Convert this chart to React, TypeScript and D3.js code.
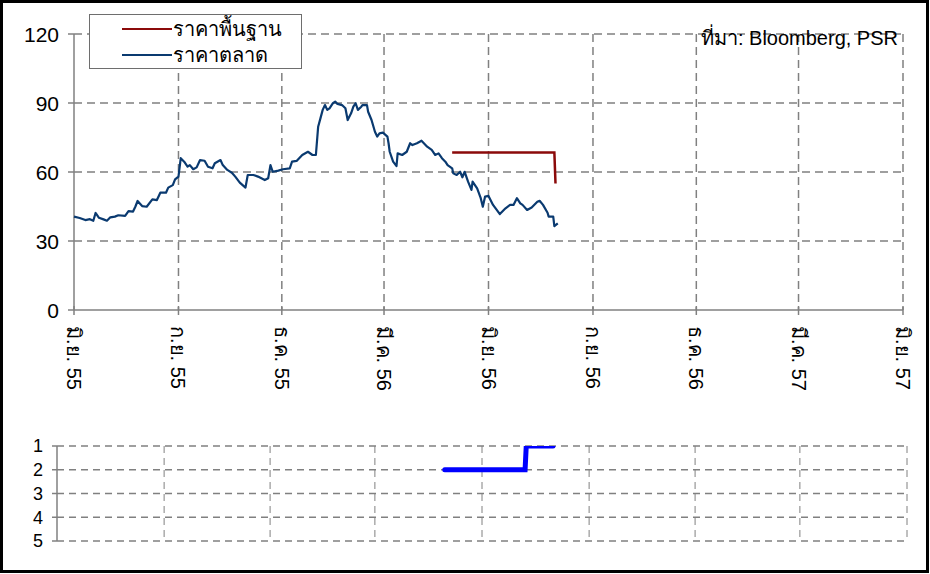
import * as d3 from 'd3'
import React from 'react'

const W = 930
const H = 574
const FONT = "'Liberation Sans', Arial, sans-serif"

// ราคาตลาด - market price
const marketPrice: [string, number][] = [
    ['2012-06-01', 40.6], ['2012-06-06', 40.0], ['2012-06-11', 39.1], ['2012-06-15', 39.5],
    ['2012-06-18', 38.8], ['2012-06-20', 42.2], ['2012-06-23', 40.1], ['2012-06-27', 39.4],
    ['2012-06-30', 38.8], ['2012-07-03', 40.3], ['2012-07-07', 40.6], ['2012-07-10', 41.2],
    ['2012-07-16', 40.9], ['2012-07-19', 43.0], ['2012-07-23', 42.8], ['2012-07-25', 44.9],
    ['2012-07-27', 47.4], ['2012-07-31', 45.2], ['2012-08-04', 44.9], ['2012-08-09', 48.1],
    ['2012-08-13', 47.8], ['2012-08-16', 51.0], ['2012-08-21', 51.0], ['2012-08-23', 53.2],
    ['2012-08-27', 54.3], ['2012-08-29', 56.8], ['2012-09-01', 58.0], ['2012-09-03', 66.0],
    ['2012-09-06', 64.5], ['2012-09-09', 62.3], ['2012-09-11', 63.0], ['2012-09-14', 61.2],
    ['2012-09-17', 62.0], ['2012-09-20', 65.2], ['2012-09-24', 64.9], ['2012-09-27', 62.3],
    ['2012-10-01', 61.6], ['2012-10-03', 63.8], ['2012-10-08', 65.2], ['2012-10-10', 63.0],
    ['2012-10-14', 60.9], ['2012-10-18', 59.7], ['2012-10-21', 58.0], ['2012-10-25', 55.4],
    ['2012-10-30', 53.2], ['2012-11-01', 58.7], ['2012-11-06', 58.7], ['2012-11-10', 58.0],
    ['2012-11-16', 56.5], ['2012-11-19', 57.3], ['2012-11-21', 63.0], ['2012-11-23', 60.1],
    ['2012-11-28', 60.6], ['2012-12-02', 61.2], ['2012-12-08', 61.6], ['2012-12-10', 64.5],
    ['2012-12-14', 64.8], ['2012-12-19', 67.4], ['2012-12-24', 68.8], ['2012-12-28', 67.4],
    ['2012-12-31', 67.4], ['2013-01-02', 79.7], ['2013-01-04', 83.3], ['2013-01-06', 87.0],
    ['2013-01-08', 89.1], ['2013-01-10', 87.0], ['2013-01-12', 87.7], ['2013-01-15', 89.9],
    ['2013-01-17', 90.6], ['2013-01-19', 89.6], ['2013-01-23', 89.1], ['2013-01-26', 87.7],
    ['2013-01-28', 82.6], ['2013-01-31', 85.5], ['2013-02-02', 88.4], ['2013-02-04', 89.9],
    ['2013-02-06', 87.0], ['2013-02-09', 88.4], ['2013-02-10', 89.1], ['2013-02-14', 89.1],
    ['2013-02-15', 86.2], ['2013-02-18', 82.6], ['2013-02-21', 77.5], ['2013-02-23', 75.4],
    ['2013-02-25', 76.8], ['2013-02-28', 77.1], ['2013-03-04', 75.4], ['2013-03-05', 72.5],
    ['2013-03-06', 68.8], ['2013-03-09', 64.5], ['2013-03-12', 62.6], ['2013-03-13', 68.1],
    ['2013-03-17', 67.4], ['2013-03-21', 68.8], ['2013-03-24', 72.5], ['2013-03-26', 71.7],
    ['2013-03-30', 72.5], ['2013-04-03', 73.6], ['2013-04-08', 71.0], ['2013-04-12', 69.6],
    ['2013-04-15', 67.4], ['2013-04-18', 68.1], ['2013-04-21', 66.0], ['2013-04-24', 64.5],
    ['2013-04-26', 63.0], ['2013-04-30', 61.6], ['2013-05-01', 59.4], ['2013-05-04', 58.7],
    ['2013-05-07', 60.1], ['2013-05-09', 57.7], ['2013-05-11', 60.1], ['2013-05-14', 55.8],
    ['2013-05-17', 52.2], ['2013-05-18', 55.8], ['2013-05-22', 52.9], ['2013-05-25', 48.9],
    ['2013-05-27', 44.9], ['2013-05-29', 49.3], ['2013-06-01', 49.6], ['2013-06-05', 45.7],
    ['2013-06-11', 41.7], ['2013-06-16', 44.2], ['2013-06-20', 45.7], ['2013-06-23', 45.7],
    ['2013-06-26', 48.6], ['2013-06-29', 46.4], ['2013-07-01', 45.7], ['2013-07-05', 43.5],
    ['2013-07-09', 44.6], ['2013-07-14', 47.1], ['2013-07-16', 47.5], ['2013-07-19', 45.7],
    ['2013-07-23', 42.3], ['2013-07-24', 40.6], ['2013-07-28', 40.6], ['2013-07-29', 36.5],
    ['2013-08-01', 37.7],
]

// ราคาพื้นฐาน - fair value
const fairPrice: [string, number][] = [
    ['2013-04-30', 68.5], ['2013-07-29', 68.5], ['2013-07-30', 55.0],
]

// recommendation level (1..5) shown in the lower panel
const rating: [string, number][] = [
    ['2013-04-30', 2], ['2013-07-08', 2], ['2013-07-09', 1], ['2013-08-01', 1],
]

const xTickDates = [
    '2012-06-01', '2012-09-01', '2012-12-01', '2013-03-01', '2013-06-01',
    '2013-09-01', '2013-12-01', '2014-03-01', '2014-06-01',
]
const xTickLabels = [
    'มิ.ย. 55', 'ก.ย. 55', 'ธ.ค. 55', 'มี.ค. 56', 'มิ.ย. 56',
    'ก.ย. 56', 'ธ.ค. 56', 'มี.ค. 57', 'มิ.ย. 57',
]
const yTicks = [0, 30, 60, 90, 120]
const rankTicks = [1, 2, 3, 4, 5]
const legendLabels = ['ราคาพื้นฐาน', 'ราคาตลาด']
const sourceText = 'ที่มา: Bloomberg, PSR'

const parse = d3.timeParse('%Y-%m-%d')
const GRID = '#808080'
const RED = '#8b0a0a'
const NAVY = '#0a3a70'

const App = (): JSX.Element => {
    const start = parse(xTickDates[0]) as Date
    const end = parse(xTickDates[xTickDates.length - 1]) as Date

    // top chart scales
    const x = d3.scaleTime().domain([start, end]).range([74, 903])
    const y = d3.scaleLinear().domain([0, 120]).range([310, 34])

    // bottom panel scales (same dates, wider plot)
    const xb = d3.scaleTime().domain([start, end]).range([57, 907])
    const yb = d3.scaleLinear().domain([1, 5]).range([446, 541])

    const line = d3
        .line<[string, number]>()
        .x((d) => x(parse(d[0]) as Date))
        .y((d) => y(d[1]))

    const rankLine = d3
        .line<[string, number]>()
        .x((d) => xb(parse(d[0]) as Date))
        .y((d) => yb(d[1]))

    const ticks = xTickDates.map((d) => parse(d) as Date)
    const [x0, x1] = x.range()
    const [bx0, bx1] = xb.range()

    return (
        <svg
            width={W}
            height={H}
            style={{ position: 'absolute', left: 0, top: 0, background: '#fff' }}
            fontFamily={FONT}
        >
            <defs>
                <clipPath id="rank-clip">
                    <rect x={bx0} y={yb(1)} width={bx1 - bx0} height={yb(5) - yb(1)} />
                </clipPath>
            </defs>
            <rect x={1.5} y={1.5} width={W - 4} height={H - 4} fill="#fff" stroke="#000" strokeWidth={3} />

            {/* top chart grid */}
            {yTicks.filter((v) => v > 0).map((v) => (
                <line key={`gy${v}`} x1={x0} x2={x1} y1={y(v)} y2={y(v)}
                    stroke={GRID} strokeWidth={1.5} strokeDasharray="8,5" />
            ))}
            {ticks.slice(1).map((t, i) => (
                <line key={`gx${i}`} x1={x(t)} x2={x(t)} y1={y(120)} y2={y(0)}
                    stroke={GRID} strokeWidth={1.5} strokeDasharray="8,5" />
            ))}

            {/* top axes */}
            <line x1={x0} x2={x0} y1={y(120)} y2={y(0)} stroke={GRID} strokeWidth={1.5} />
            <line x1={x0} x2={x1} y1={y(0)} y2={y(0)} stroke={GRID} strokeWidth={1.5} />
            {yTicks.map((v) => (
                <g key={`yt${v}`}>
                    <line x1={x0 - 6} x2={x0} y1={y(v)} y2={y(v)} stroke={GRID} strokeWidth={1.5} />
                    <text x={x0 - 15} y={y(v)} dy="0.36em" textAnchor="end" fontSize={21} fill="#000">{v}</text>
                </g>
            ))}
            {ticks.map((t, i) => (
                <g key={`xt${i}`}>
                    <line x1={x(t)} x2={x(t)} y1={y(0) - 4} y2={y(0) + 5} stroke={GRID} strokeWidth={1.5} />
                    <text transform={`translate(${x(t)},${y(0) + 16}) rotate(90)`} dy="0.35em"
                        textAnchor="start" fontSize={20} fill="#000">{xTickLabels[i]}</text>
                </g>
            ))}

            {/* series */}
            <path d={line(marketPrice) || ''} fill="none" stroke={NAVY} strokeWidth={2.2} strokeLinejoin="round" />
            <path d={line(fairPrice) || ''} fill="none" stroke={RED} strokeWidth={2.5} />

            {/* legend */}
            <rect x={89.5} y={14.5} width={212} height={54} fill="#fff" stroke="#6e6e6e" strokeWidth={1} />
            {legendLabels.map((label, i) => (
                <g key={label}>
                    <line x1={122} x2={172} y1={29 + i * 26} y2={29 + i * 26}
                        stroke={i === 0 ? RED : NAVY} strokeWidth={2} />
                    <text x={173} y={29 + i * 26} dy="0.36em" fontSize={20} fill="#000">{label}</text>
                </g>
            ))}

            <text x={898} y={45} textAnchor="end" fontSize={20} fill="#000">{sourceText}</text>

            {/* bottom panel grid */}
            {rankTicks.map((v) => (
                <line key={`rg${v}`} x1={bx0} x2={bx1} y1={yb(v)} y2={yb(v)}
                    stroke={GRID} strokeWidth={1.5} strokeDasharray="7,5" />
            ))}
            {ticks.slice(1).map((t, i) => (
                <line key={`rv${i}`} x1={xb(t)} x2={xb(t)} y1={yb(1)} y2={yb(5)}
                    stroke={GRID} strokeWidth={1} strokeDasharray="7,5" />
            ))}
            <line x1={bx0} x2={bx0} y1={yb(1)} y2={yb(5)} stroke={GRID} strokeWidth={1.5} />
            {rankTicks.map((v) => (
                <g key={`rt${v}`}>
                    <line x1={bx0 - 5} x2={bx0} y1={yb(v)} y2={yb(v)} stroke={GRID} strokeWidth={1.5} />
                    <text x={bx0 - 14} y={yb(v)} dy="0.36em" textAnchor="end" fontSize={18} fill="#000">{v}</text>
                </g>
            ))}
            <path d={rankLine(rating) || ''} fill="none" stroke="#0000ff" strokeWidth={5}
                strokeLinecap="round" clipPath="url(#rank-clip)" />
        </svg>
    )
}

export default App
